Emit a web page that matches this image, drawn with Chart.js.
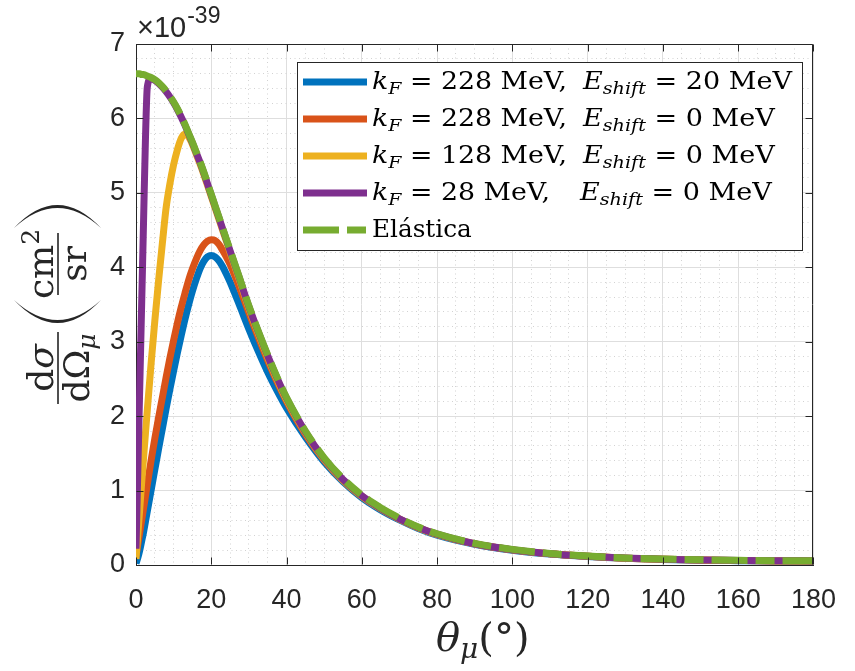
<!DOCTYPE html>
<html lang="es">
<head>
<meta charset="UTF-8">
<title>Sección eficaz diferencial</title>
<script src="https://cdn.jsdelivr.net/npm/chart.js"></script>
<style>
  body { margin: 0; background: #fff; }
  #wrap { width: 855px; height: 671px; }
</style>
</head>
<body>
<div id="wrap"><canvas id="chart" width="855" height="671"></canvas></div>
<script>
// ángulo del muón (grados)
const theta = [0, 0.5, 1, 1.5, 2, 2.5, 3, 4, 5, 6, 7, 8, 9, 10, 11, 12, 13, 14, 15, 16, 17, 18, 19, 20,
  21, 22, 23, 24, 25, 27.5, 30, 32.5, 35, 37.5, 40, 45, 50, 55, 60, 65, 70, 75, 80,
  90, 100, 110, 120, 130, 140, 150, 160, 170, 180];

// dσ/dΩ en unidades de 1e-39 cm^2/sr
const elastica = [6.60, 6.60, 6.60, 6.59, 6.59, 6.58, 6.57, 6.55, 6.52, 6.48, 6.43, 6.37, 6.30, 6.22,
  6.13, 6.03, 5.92, 5.80, 5.68, 5.55, 5.42, 5.28, 5.13, 4.98,
  4.83, 4.68, 4.53, 4.38, 4.23, 3.86, 3.48, 3.14, 2.82, 2.52, 2.25, 1.80, 1.44, 1.16, 0.94, 0.77, 0.63, 0.51, 0.42,
  0.29, 0.21, 0.155, 0.12, 0.095, 0.08, 0.07, 0.063, 0.058, 0.056];

const kf28 = [0.22, 1.30, 2.40, 3.50, 4.60, 5.70, 6.42, 6.54, 6.51, 6.47, 6.42, 6.36, 6.29, 6.21,
  6.12, 6.02, 5.91, 5.79, 5.67, 5.54, 5.41, 5.27, 5.12, 4.97,
  4.82, 4.67, 4.52, 4.37, 4.22, 3.85, 3.47, 3.13, 2.81, 2.51, 2.24, 1.79, 1.43, 1.15, 0.93, 0.76, 0.62, 0.505, 0.415,
  0.285, 0.205, 0.152, 0.118, 0.093, 0.078, 0.068, 0.062, 0.057, 0.055];

const kf128 = [0.08, 0.42, 0.76, 1.10, 1.43, 1.76, 2.08, 2.70, 3.28, 3.82, 4.32, 4.80, 5.12, 5.38,
  5.58, 5.73, 5.79, 5.75, 5.65, 5.52, 5.39, 5.25, 5.10, 4.95,
  4.80, 4.65, 4.50, 4.35, 4.20, 3.83, 3.45, 3.11, 2.79, 2.49, 2.22, 1.78, 1.42, 1.14, 0.925, 0.755, 0.615, 0.50, 0.41,
  0.283, 0.203, 0.15, 0.116, 0.092, 0.077, 0.067, 0.061, 0.056, 0.054];

const kf228 = [0.12, 0.28, 0.44, 0.60, 0.76, 0.92, 1.08, 1.40, 1.70, 1.98, 2.25, 2.52, 2.78, 3.02,
  3.25, 3.46, 3.65, 3.83, 3.98, 4.11, 4.22, 4.30, 4.35, 4.37,
  4.36, 4.31, 4.23, 4.14, 4.04, 3.73, 3.39, 3.06, 2.75, 2.46, 2.20, 1.76, 1.41, 1.135, 0.92, 0.755, 0.615, 0.50, 0.41,
  0.283, 0.203, 0.15, 0.116, 0.091, 0.076, 0.066, 0.06, 0.055, 0.053];

const kf228shift = [0.02, 0.10, 0.20, 0.32, 0.44, 0.58, 0.72, 1.00, 1.28, 1.56, 1.83, 2.10, 2.36, 2.61,
  2.85, 3.08, 3.30, 3.50, 3.68, 3.84, 3.98, 4.08, 4.14, 4.16,
  4.14, 4.09, 4.01, 3.91, 3.80, 3.49, 3.17, 2.87, 2.59, 2.34, 2.11, 1.72, 1.385, 1.12, 0.905, 0.74, 0.605, 0.49, 0.40,
  0.278, 0.199, 0.147, 0.113, 0.089, 0.074, 0.064, 0.058, 0.053, 0.051];

const kfValues = [228, 228, 128, 28];
const shiftValues = [20, 0, 0, 0];
const elasticLabel = 'Elástica';
const seriesColors = ['#0072BD', '#D95319', '#EDB120', '#7E2F8E', '#77AC30'];
const xTicks = [0, 20, 40, 60, 80, 100, 120, 140, 160, 180];
const yTicks = [0, 1, 2, 3, 4, 5, 6, 7];

const AXIS = '#262626';
const SERIF = '"DejaVu Serif", serif';

function toPoints(ys) {
  return theta.map((t, i) => ({ x: t, y: ys[i] }));
}
function near(v, list) {
  return list.some(t => Math.abs(t - v) < 1e-6);
}

// dibuja una secuencia de trozos de texto (romana/itálica, subíndices)
function runsWidth(ctx, runs) {
  let w = 0;
  runs.forEach(r => {
    ctx.font = (r.i ? 'italic ' : '') + r.size + 'px ' + SERIF;
    w += ctx.measureText(r.t).width;
  });
  return w;
}
function drawRuns(ctx, runs, x, y, sx) {
  let cx = x;
  runs.forEach(r => {
    ctx.font = (r.i ? 'italic ' : '') + r.size + 'px ' + SERIF;
    const w = ctx.measureText(r.t).width;
    ctx.save();
    ctx.translate(cx, y + (r.dy || 0));
    ctx.scale(sx, 1);
    ctx.fillText(r.t, 0, 0);
    ctx.restore();
    cx += w * sx;
  });
}

function paren(ctx, a0, a1, bTop, bBot, open) {
  // paréntesis grande tipo TeX, relleno entre dos curvas
  const mid = (bTop + bBot) / 2;
  const tip = open ? a1 : a0;
  const outer = open ? a0 : a1;
  const thick = open ? 3 : -3;
  const cOut = 2 * outer - tip;
  const cIn = 2 * (outer + thick) - tip;
  ctx.beginPath();
  ctx.moveTo(tip, bTop);
  ctx.quadraticCurveTo(cOut, mid, tip, bBot);
  ctx.quadraticCurveTo(cIn, mid, tip, bTop);
  ctx.fill();
}

const decor = {
  id: 'decor',
  afterDatasetsDraw(chart) {
    const { ctx, chartArea: a, scales: { x, y } } = chart;
    ctx.save();
    ctx.strokeStyle = AXIS;
    ctx.lineWidth = 1;
    const L = Math.round(a.left) + 0.5, R = Math.round(a.right) - 0.5;
    const T = Math.round(a.top) + 0.5, B = Math.round(a.bottom) - 0.5;
    ctx.beginPath();
    ctx.moveTo(L, T); ctx.lineTo(R, T); ctx.lineTo(R, B);
    // marcas hacia dentro en los cuatro lados
    xTicks.forEach(v => {
      const px = Math.round(x.getPixelForValue(v)) + 0.5;
      ctx.moveTo(px, B); ctx.lineTo(px, B - 7);
      ctx.moveTo(px, T); ctx.lineTo(px, T + 7);
    });
    yTicks.forEach(v => {
      const py = Math.round(y.getPixelForValue(v)) + 0.5;
      ctx.moveTo(L, py); ctx.lineTo(L + 7, py);
      ctx.moveTo(R, py); ctx.lineTo(R - 7, py);
    });
    ctx.stroke();
    ctx.restore();
  },
  afterDraw(chart) {
    const { ctx } = chart;
    ctx.save();
    ctx.textBaseline = 'alphabetic';
    ctx.textAlign = 'left';

    // factor de escala del eje y
    ctx.fillStyle = AXIS;
    ctx.font = '29px "Liberation Sans"';
    ctx.fillText('×10', 137, 37);
    const wx = ctx.measureText('×10').width;
    ctx.font = '23px "Liberation Sans"';
    ctx.fillText('-39', 137 + wx + 1, 23);

    // título eje x: θ_μ(°)
    drawRuns(ctx, [
      { t: 'θ', i: 1, size: 40 },
      { t: 'μ', i: 1, size: 28, dy: 7 },
      { t: '(°)', size: 40 }
    ], 436, 651, 1);

    // título eje y (girado)
    ctx.save();
    ctx.translate(0, 403);
    ctx.rotate(-Math.PI / 2);
    const centered = (runs, ca, b) => {
      const w = runsWidth(ctx, runs);
      drawRuns(ctx, runs, ca - w / 2, b, 1);
    };
    centered([{ t: 'd', size: 36 }, { t: 'σ', i: 1, size: 36 }], 35, 53);
    centered([{ t: 'dΩ', size: 36 }, { t: 'μ', i: 1, size: 25, dy: 6 }], 35, 89);
    centered([{ t: 'cm', size: 36 }, { t: '2', size: 25, dy: -14 }], 139, 53);
    centered([{ t: 'sr', size: 36 }], 139, 86);
    ctx.fillRect(-1, 57.2, 72, 1.6);
    ctx.fillRect(108, 57.2, 62, 1.6);
    paren(ctx, 80, 103, 14, 101, true);
    paren(ctx, 175, 198, 14, 101, false);
    ctx.restore();

    // leyenda
    const box = { x: 297.5, y: 62.5, w: 505, h: 188 };
    ctx.fillStyle = '#fff';
    ctx.fillRect(box.x, box.y, box.w, box.h);
    ctx.strokeStyle = AXIS;
    ctx.lineWidth = 1;
    ctx.strokeRect(box.x, box.y, box.w, box.h);

    const partA = i => [
      { t: 'k', i: 1, size: 24 },
      { t: 'F', i: 1, size: 17, dy: 5 },
      { t: ' = ' + kfValues[i] + ' MeV,', size: 24 }
    ];
    const partB = i => [
      { t: 'E', i: 1, size: 24 },
      { t: 'shift', i: 1, size: 17, dy: 5 },
      { t: ' = ' + shiftValues[i] + ' MeV', size: 24 }
    ];
    const clamp = v => Math.max(0.9, Math.min(1.15, v));
    const sA = clamp(195 / runsWidth(ctx, partA(0)));
    const sB = clamp(209 / runsWidth(ctx, partB(0)));

    chart.data.datasets.forEach((ds, i) => {
      const cy = 82 + i * 37;
      ctx.save();
      ctx.strokeStyle = ds.borderColor;
      ctx.lineWidth = ds.borderWidth;
      ctx.setLineDash(ds.borderDash || []);
      ctx.beginPath();
      ctx.moveTo(303, cy);
      ctx.lineTo(367, cy);
      ctx.stroke();
      ctx.restore();
      ctx.fillStyle = '#000';
      if (i < kfValues.length) {
        drawRuns(ctx, partA(i), 372, cy + 7, sA);
        drawRuns(ctx, partB(i), i === 3 ? 580 : 583, cy + 7, sB);
      } else {
        drawRuns(ctx, [{ t: elasticLabel, size: 24 }], 372, cy + 7, 1.03);
      }
    });
    ctx.restore();
  }
};

const curves = [kf228shift, kf228, kf128, kf28, elastica];

new Chart(document.getElementById('chart'), {
  type: 'line',
  data: {
    datasets: curves.map((ys, i) => ({
      label: i < 4 ? 'kF = ' + kfValues[i] + ' MeV, Eshift = ' + shiftValues[i] + ' MeV' : elasticLabel,
      data: toPoints(ys),
      borderColor: seriesColors[i],
      borderWidth: 7,
      borderDash: i === 4 ? [36, 8, 19, 8] : [],
      order: 5 - i,
      pointRadius: 0,
      fill: false,
      cubicInterpolationMode: 'monotone'
    }))
  },
  options: {
    responsive: false,
    animation: false,
    layout: { padding: { top: 44, right: 29, left: 0, bottom: 0 } },
    plugins: { legend: { display: false }, tooltip: { enabled: false } },
    scales: {
      x: {
        type: 'linear', min: 0, max: 180,
        afterFit: s => { s.height = 106; },
        ticks: {
          stepSize: 5, autoSkip: false, maxRotation: 0, minRotation: 0,
          padding: 19, color: AXIS,
          font: { family: 'Liberation Sans', size: 27 },
          callback: v => near(v, xTicks) ? String(Math.round(v)) : ''
        },
        grid: {
          drawTicks: false,
          color: c => (c.tick && near(c.tick.value, xTicks)) ? '#dedede' : '#d2d2d2',
          lineWidth: 1
        },
        border: {
          display: true, color: AXIS, width: 1,
          dash: c => (c.tick && !near(c.tick.value, xTicks)) ? [1, 3.5] : []
        }
      },
      y: {
        type: 'linear', min: 0, max: 7,
        afterFit: s => { s.width = 136; },
        ticks: {
          stepSize: 0.2, autoSkip: false, padding: 11, color: AXIS,
          font: { family: 'Liberation Sans', size: 27 },
          callback: v => near(v, yTicks) ? String(Math.round(v)) : ''
        },
        grid: {
          drawTicks: false,
          color: c => (c.tick && near(c.tick.value, yTicks)) ? '#dedede' : '#d2d2d2',
          lineWidth: 1
        },
        border: {
          display: true, color: AXIS, width: 1,
          dash: c => (c.tick && !near(c.tick.value, yTicks)) ? [1, 3.5] : []
        }
      }
    }
  },
  plugins: [decor]
});
</script>
</body>
</html>
